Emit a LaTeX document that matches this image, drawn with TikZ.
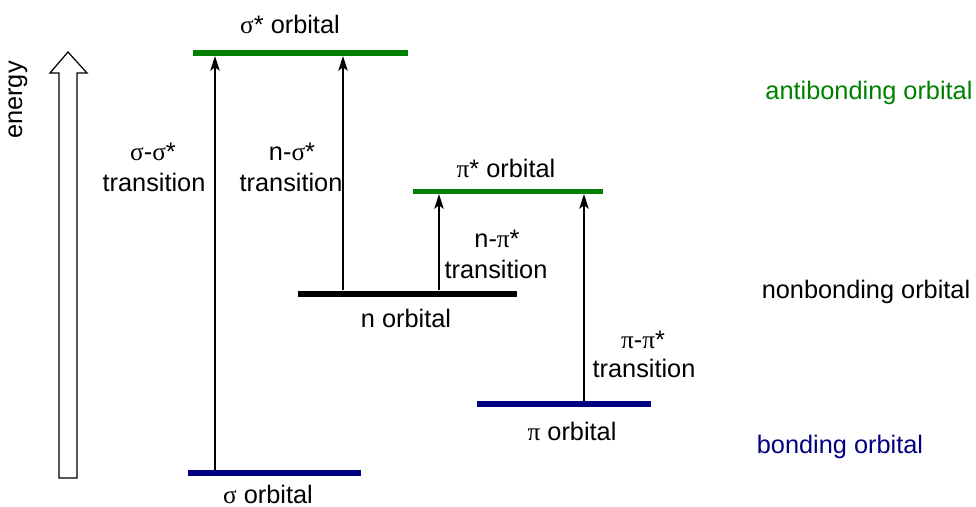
\documentclass[tikz,border=0pt]{standalone}
\usepackage{fontspec}
\setmainfont{Liberation Sans}
\newfontfamily\grk{Liberation Serif}
\usetikzlibrary{arrows.meta}
\definecolor{orbgreen}{RGB}{0,128,0}
\definecolor{orbnavy}{RGB}{0,0,128}
\newcommand{\gs}{{\grk σ}}
\newcommand{\gp}{{\grk π}}
\tikzset{
  lbl/.style={font=\fontsize{19}{23}\selectfont, inner sep=0pt, align=center},
  orb/.style={line width=4.2pt},
  trans/.style={line width=1.5pt, -{Stealth[length=11pt,width=7pt,inset=2.5pt]}},
}
\begin{document}
\begin{tikzpicture}[x=0.75pt,y=-0.75pt]
\useasboundingbox (0,0) rectangle (976,507);
% energy arrow
\draw[line width=0.9pt, fill=white] (59,478) -- (59,73) -- (50,73) -- (68,52) -- (87,73) -- (77,73) -- (77,478) -- cycle;
\node[lbl, rotate=90] (energy) at (18,100) {energy};
% orbital levels
\coordinate (ss1) at (193,53); \coordinate (ss2) at (408,53);
\coordinate (ps1) at (413,191.5); \coordinate (ps2) at (603,191.5);
\coordinate (n1) at (298,294); \coordinate (n2) at (517,294);
\coordinate (p1) at (477,404); \coordinate (p2) at (651,404);
\coordinate (s1) at (188,473); \coordinate (s2) at (361,473);
\draw[orb, orbgreen] (ss1) -- (ss2);
\draw[orb, orbgreen] (ps1) -- (ps2);
\draw[orb, black] (n1) -- (n2);
\draw[orb, orbnavy] (p1) -- (p2);
\draw[orb, orbnavy] (s1) -- (s2);
% level labels
\node[lbl] (lss) at (290,24) {\gs* orbital};
\node[lbl] (lps) at (506,168) {\gp* orbital};
\node[lbl] (ln) at (406,318) {n orbital};
\node[lbl] (lp) at (572,431) {\gp{} orbital};
\node[lbl] (ls) at (268,494) {\gs{} orbital};
% transition arrows
\coordinate (a1s) at (215,471); \coordinate (a1e) at (215,56);
\coordinate (a2s) at (343,290); \coordinate (a2e) at (343,56);
\coordinate (a3s) at (439,290); \coordinate (a3e) at (439,194);
\coordinate (a4s) at (584,402); \coordinate (a4e) at (584,194);
\draw[trans] (a1s) -- (a1e);
\draw[trans] (a2s) -- (a2e);
\draw[trans] (a3s) -- (a3e);
\draw[trans] (a4s) -- (a4e);
% transition labels
\node[lbl] (t1a) at (153,152) {\gs-\gs*};
\node[lbl] (t1b) at (154,182) {transition};
\node[lbl] (t2a) at (292,152) {n-\gs*};
\node[lbl] (t2b) at (291,182) {transition};
\node[lbl] (t3a) at (497,239) {n-\gp*};
\node[lbl] (t3b) at (496,269) {transition};
\node[lbl] (t4a) at (643,340) {\gp-\gp*};
\node[lbl] (t4b) at (644,368) {transition};
% right labels
\node[lbl, text=orbgreen] (anti) at (869,93) {antibonding orbital};
\node[lbl] (nonb) at (866,292) {nonbonding orbital};
\node[lbl, text=orbnavy] (bond) at (840,447) {bonding orbital};
\end{tikzpicture}
\end{document}
